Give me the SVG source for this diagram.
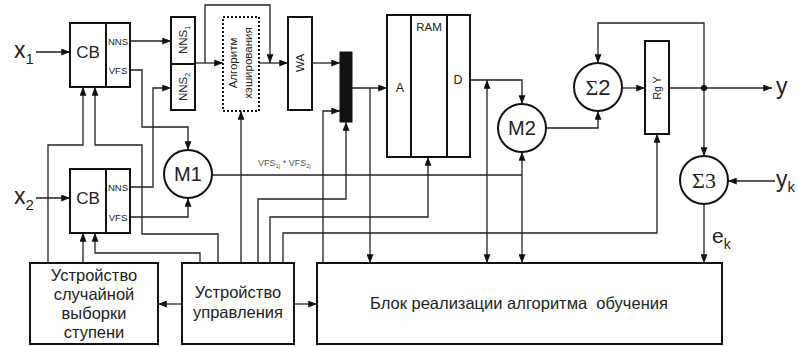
<svg xmlns="http://www.w3.org/2000/svg" width="797" height="347" viewBox="0 0 797 347">
<defs>
<marker id="a" viewBox="0 0 10 8" refX="10" refY="4" markerWidth="9" markerHeight="7" markerUnits="userSpaceOnUse" orient="auto-start-reverse"><path d="M0,0 L10,4 L0,8 z" fill="#111"/></marker>
<style>
.b{fill:#fff;stroke:#111;stroke-width:2}
.c{fill:none;stroke:#222;stroke-width:1.3;marker-end:url(#a)}
.d{fill:none;stroke:#222;stroke-width:1.3;marker-start:url(#a);marker-end:url(#a)}
.n{fill:none;stroke:#222;stroke-width:1.3}
text{font-family:"Liberation Sans",Arial,sans-serif;fill:#222}
.m{text-anchor:middle}
</style>
</defs>
<rect width="797" height="347" fill="#fff"/>
<g id="connectors">
<path class="c" d="M36,52 H70"/>
<path class="c" d="M36,198 H70"/>
<path class="c" d="M130,41 H171"/>
<path class="c" d="M130,70 H142 V127 H188 V150"/>
<path class="c" d="M130,187 H153 V88 H171"/>
<path class="c" d="M130,217 H188 V198"/>
<path class="c" d="M195,63 H223"/>
<path class="c" d="M205,63 V5 H270 V63"/>
<path class="c" d="M259,63 H288"/>
<path class="c" d="M312,63 H340"/>
<path class="c" d="M352,88 H387"/>
<path class="c" d="M370,88 V263"/>
<path class="c" d="M470,80 H522 V104"/>
<path class="d" d="M487,263 V80"/>
<path class="d" d="M522,263 V152"/>
<path class="n" d="M212,175 H522"/>
<path class="c" d="M546,128 H598 V111"/>
<path class="c" d="M622,88 H645"/>
<path class="c" d="M669,88 H772"/>
<path class="c" d="M704,88 V23 H598 V63"/>
<path class="c" d="M704,88 V156"/>
<path class="c" d="M775,181 H728"/>
<path class="c" d="M704,204 V263"/>
<path class="c" d="M48,263 V145 H83 V87"/>
<path class="c" d="M83,263 V233"/>
<path class="c" d="M218,263 V234 H142 V145 H95 V87"/>
<path class="c" d="M200,263 V253 H95 V233"/>
<path class="c" d="M241,263 V111"/>
<path class="c" d="M258,263 V199 H346 V122"/>
<path class="c" d="M270,263 V217 H428 V157"/>
<path class="c" d="M283,263 V233 H657 V134"/>
<path class="c" d="M323,263 V111 H340"/>
<path class="c" d="M182,304 H158"/>
<path class="c" d="M294,304 H317"/>
<circle cx="704" cy="88" r="3" fill="#111"/>
</g>
<g id="labels">
<text x="14" y="58" font-size="23">x<tspan dy="6" font-size="15">1</tspan></text>
<text x="14" y="204" font-size="23">x<tspan dy="6" font-size="15">2</tspan></text>
<text x="776" y="94" font-size="23">y</text>
<text x="776" y="187" font-size="23">y<tspan dy="5" font-size="15">k</tspan></text>
<text x="712" y="243" font-size="21">e<tspan dy="6" font-size="14">k</tspan></text>
<text x="258" y="166" font-size="9" style="fill:#555">VFS<tspan dy="2" font-size="6">1j</tspan><tspan dy="-2"> * VFS</tspan><tspan dy="2" font-size="6">2j</tspan></text>
</g>
<g id="cb1">
<rect class="b" x="70" y="23" width="60" height="64"/>
<line x1="106" y1="23" x2="106" y2="87" stroke="#111" stroke-width="2"/>
<text class="m" x="88" y="58" font-size="17">CB</text>
<text class="m" x="118" y="45" font-size="9.5">NNS</text>
<text class="m" x="118" y="74" font-size="9.5">VFS</text>
</g>
<g id="cb2">
<rect class="b" x="70" y="169" width="60" height="64"/>
<line x1="106" y1="169" x2="106" y2="233" stroke="#111" stroke-width="2"/>
<text class="m" x="88" y="204" font-size="17">CB</text>
<text class="m" x="118" y="191" font-size="9.5">NNS</text>
<text class="m" x="118" y="221" font-size="9.5">VFS</text>
</g>
<g id="nns">
<rect class="b" x="171" y="17" width="24" height="47"/>
<rect class="b" x="171" y="64" width="24" height="46"/>
<text class="m" transform="translate(187,40) rotate(-90)" font-size="11.5">NNS<tspan dy="3" font-size="7">1</tspan></text>
<text class="m" transform="translate(187,87) rotate(-90)" font-size="11.5">NNS<tspan dy="3" font-size="7">2</tspan></text>
</g>
<g id="hash">
<rect x="223" y="17" width="36" height="94" fill="#fff" stroke="#111" stroke-width="2" stroke-dasharray="2,2"/>
<text class="m" transform="translate(237,63) rotate(-90)" font-size="11.5">Алгоритм</text>
<text class="m" transform="translate(252,63) rotate(-90)" font-size="11.5">хэширования</text>
</g>
<g id="wa">
<rect class="b" x="288" y="17" width="24" height="93"/>
<text class="m" transform="translate(304,63) rotate(-90)" font-size="11.5">WA</text>
</g>
<g id="bar">
<rect x="340" y="52" width="12" height="70" fill="#111" stroke="#111" stroke-width="1"/>
</g>
<g id="ram">
<rect class="b" x="387" y="15" width="83" height="142"/>
<line x1="411" y1="15" x2="411" y2="157" stroke="#111" stroke-width="2"/>
<line x1="447" y1="15" x2="447" y2="157" stroke="#111" stroke-width="2"/>
<text class="m" x="429" y="31" font-size="11.5">RAM</text>
<text class="m" x="400" y="92" font-size="12.5">A</text>
<text class="m" x="458" y="84" font-size="12.5">D</text>
</g>
<g id="m1">
<circle cx="188" cy="174" r="24" fill="#fff" stroke="#111" stroke-width="2"/>
<text class="m" x="188" y="181" font-size="20">M1</text>
</g>
<g id="m2">
<circle cx="522" cy="128" r="24" fill="#fff" stroke="#111" stroke-width="2"/>
<text class="m" x="522" y="135" font-size="20">M2</text>
</g>
<g id="s2">
<circle cx="598" cy="87" r="24" fill="#fff" stroke="#111" stroke-width="2"/>
<text class="m" x="598" y="95" font-size="22"><tspan style="font-family:'Liberation Serif',serif">Σ</tspan>2</text>
</g>
<g id="rgy">
<rect class="b" x="645" y="41" width="24" height="93"/>
<text class="m" transform="translate(661,88) rotate(-90)" font-size="10.5">Rg Y</text>
</g>
<g id="s3">
<circle cx="704" cy="180" r="24" fill="#fff" stroke="#111" stroke-width="2"/>
<text class="m" x="704" y="188" font-size="22" style="font-family:'Liberation Serif',serif">Σ3</text>
</g>
<g id="random">
<rect class="b" x="30" y="263" width="128" height="81"/>
<text class="m" x="94" y="281" font-size="16.5">Устройство</text>
<text class="m" x="94" y="300" font-size="16.5">случайной</text>
<text class="m" x="94" y="319" font-size="16.5">выборки</text>
<text class="m" x="94" y="338" font-size="16.5">ступени</text>
</g>
<g id="control">
<rect class="b" x="182" y="263" width="112" height="81"/>
<text class="m" x="238" y="298" font-size="16.5">Устройство</text>
<text class="m" x="238" y="318" font-size="16.5">управления</text>
</g>
<g id="learning">
<rect class="b" x="317" y="263" width="405" height="81"/>
<text class="m" x="519" y="309" font-size="16.5" style="white-space:pre">Блок реализации алгоритма  обучения</text>
</g>
</svg>
